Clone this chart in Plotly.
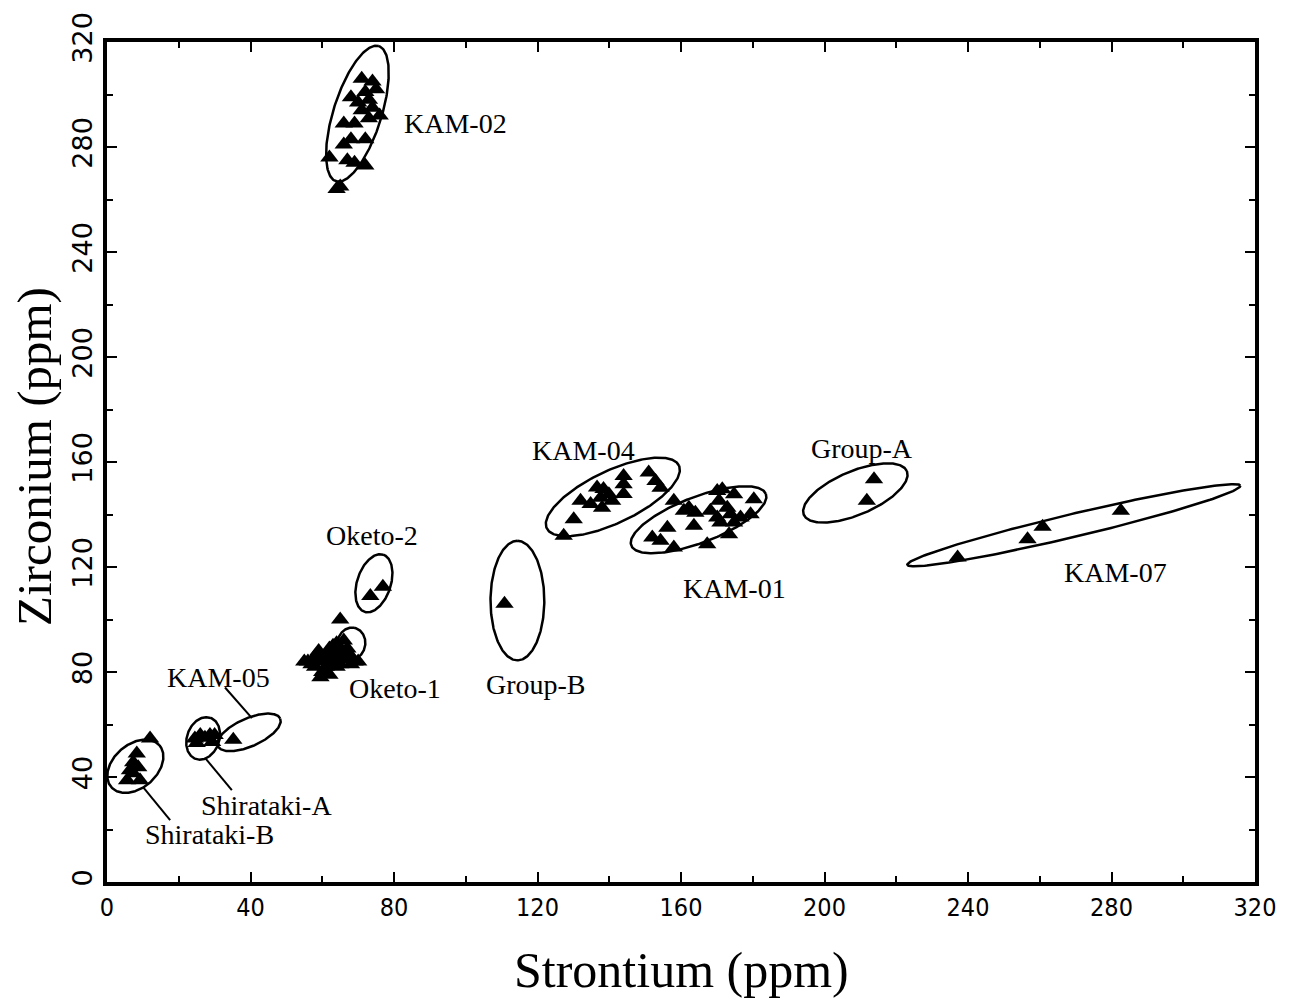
import numpy as np
import plotly.graph_objects as go

# ---------------- data (Sr, Zr in ppm) ----------------
kam02_sr = [64, 65, 62, 66, 67, 69, 72, 68, 72, 66, 69, 73, 76, 71, 74, 68, 72, 75, 71, 74, 73, 70]
kam02_zr = [264, 265, 276, 281, 275, 274, 273, 283, 283, 289, 289, 291, 292, 294, 295, 299, 301, 302, 306, 305, 298, 297]

oketo1_sr = [55, 56, 57, 58, 58, 59, 59, 60, 60, 61, 61, 62, 62, 62, 63, 63, 63, 64, 64, 64, 65, 65, 65, 66, 66, 67, 67, 68, 68, 69, 70, 59.5, 62, 65]
oketo1_zr = [84, 84, 83, 86, 82, 85, 88, 80, 84, 86, 82, 89, 85, 83, 90, 87, 84, 91, 86, 82, 88, 85, 83, 92, 87, 89, 85, 86, 83, 84, 84, 78, 79, 100]

oketo2_sr = [73.4, 76.9]
oketo2_zr = [109, 112.5]

shib_sr = [12, 8.3, 7.3, 8.7, 6.4, 7.3, 5.6, 9.2]
shib_zr = [54.7, 49, 45.6, 43.7, 42.6, 41.4, 38.8, 38.8]

shia_sr = [24.5, 26, 27.3, 28.7, 30, 25, 29.3]
shia_zr = [54.7, 56, 55, 56, 56, 53, 53.3]

kam05_sr = [35.2]
kam05_zr = [54.2]

groupb_sr = [110.8]
groupb_zr = [106]

kam04_sr = [127.3, 130.1, 132, 134.8, 136.6, 137.6, 138, 139.9, 138.4, 140.8, 144, 144, 144, 151, 152.9, 154.3]
kam04_zr = [131.9, 138.2, 145.2, 144, 150.3, 146.4, 142.6, 147.7, 149.7, 145.2, 154.7, 151.5, 147.8, 156, 152.8, 150.2]

kam01_sr = [158, 152, 154.3, 156.2, 158, 160.8, 162.2, 164, 163.6, 167.3, 168.2, 170.1, 171.5, 170.6, 170.1, 171, 172.9, 173.8, 174.8, 174.8, 173.4, 176.6, 179.4, 180.3]
kam01_zr = [145.2, 131.2, 130, 135, 127.4, 141.4, 142.6, 140.7, 135.7, 128.7, 141.4, 149, 149.6, 145.2, 138.9, 137, 142.6, 140.1, 147.7, 137, 132.5, 138.9, 140.1, 145.8]

groupa_sr = [213.8, 211.8]
groupa_zr = [153.4, 145.2]

kam07_sr = [237.1, 256.6, 260.8, 282.6]
kam07_zr = [123.6, 130.6, 135.3, 141.4]

# group ellipses: centre Sr, centre Zr, semi-major, semi-minor (in Sr units), angle (deg, on screen)
ell_names = ["KAM-02", "Oketo-2", "Oketo-1", "Shirataki-B", "Shirataki-A", "KAM-05", "Group-B", "KAM-04", "KAM-01", "Group-A", "KAM-07"]
ell_cx = [69.8, 74.4, 68.1, 7.9, 26.8, 39.6, 114.4, 141.0, 164.9, 208.6, 269.5]
ell_cy = [292.7, 113.8, 90.8, 44.1, 54.7, 57.0, 107.2, 146.7, 138.0, 148.2, 135.9]
ell_a = [19.8, 8.4, 4.5, 8.9, 6.1, 9.5, 16.7, 20.4, 20.1, 15.6, 47.7]
ell_b = [6.7, 4.7, 3.9, 6.1, 4.5, 3.9, 7.5, 7.3, 6.4, 6.1, 3.2]
ell_ang = [72.5, 72, 80, 41, 70, 24, 90, 25.5, 21, 23, 13.4]

# labels
lab_text = ["KAM-02", "KAM-04", "Group-A", "Oketo-2", "Group-B", "KAM-01", "KAM-07", "Oketo-1", "KAM-05", "Shirataki-A", "Shirataki-B"]
lab_x = [97.1, 132.8, 210.4, 73.9, 119.7, 174.9, 281.2, 80.4, 31.0, 44.4, 28.5]
lab_y = [288.9, 164.2, 165.3, 131.9, 75.3, 111.7, 117.8, 73.7, 77.9, 29.3, 18.2]

# leader lines (x0, y0, x1, y1)
lead_x0 = [32.9, 27.5, 10.0]
lead_y0 = [74.1, 47.0, 36.2]
lead_x1 = [40.4, 34.8, 17.6]
lead_y1 = [62.4, 35.0, 23.6]

x_range = [0, 320]
y_range = [0, 320]
x_ticks = list(range(0, 321, 40))
y_ticks = list(range(0, 321, 40))

# ---------------- layout geometry ----------------
W, H = 1295, 999
ML, MR, MT, MB = 107, 40, 40, 117
pw, ph = W - ML - MR, H - MT - MB
kx = pw / (x_range[1] - x_range[0])
ky = ph / (y_range[1] - y_range[0])

fig = go.Figure()

# ellipses
t = np.linspace(0, 2 * np.pi, 241)
for cx, cy, a, b, ang in zip(ell_cx, ell_cy, ell_a, ell_b, ell_ang):
    th = np.deg2rad(ang)
    dx = a * np.cos(t) * np.cos(th) - b * np.sin(t) * np.sin(th)
    dy = (a * np.cos(t) * np.sin(th) + b * np.sin(t) * np.cos(th)) * kx / ky
    fig.add_trace(go.Scatter(x=cx + dx, y=cy + dy, mode="lines",
                             line=dict(color="black", width=2.5),
                             hoverinfo="skip", showlegend=False))

# leader lines
for x0, y0, x1, y1 in zip(lead_x0, lead_y0, lead_x1, lead_y1):
    fig.add_trace(go.Scatter(x=[x0, x1], y=[y0, y1], mode="lines",
                             line=dict(color="black", width=2),
                             hoverinfo="skip", showlegend=False))

# points
groups = [(kam02_sr, kam02_zr), (oketo1_sr, oketo1_zr), (oketo2_sr, oketo2_zr),
          (shib_sr, shib_zr), (shia_sr, shia_zr), (kam05_sr, kam05_zr),
          (groupb_sr, groupb_zr), (kam04_sr, kam04_zr), (kam01_sr, kam01_zr),
          (groupa_sr, groupa_zr), (kam07_sr, kam07_zr)]
for sx, sy in groups:
    fig.add_trace(go.Scatter(x=sx, y=sy, mode="markers",
                             marker=dict(symbol="triangle-up", size=16, color="black",
                                         line=dict(width=0)),
                             showlegend=False))

for txt, x, y in zip(lab_text, lab_x, lab_y):
    fig.add_annotation(x=x, y=y, text=txt, showarrow=False,
                       font=dict(family="Liberation Serif, Times New Roman, serif", size=28, color="black"))

# axis titles
fig.add_annotation(xref="paper", yref="paper", x=0.5, y=0, yshift=-88, text="Strontium (ppm)",
                   showarrow=False, yanchor="middle",
                   font=dict(family="Liberation Serif, Times New Roman, serif", size=50, color="black"))
fig.add_annotation(xref="paper", yref="paper", x=0, y=0.506, xshift=-72, text="Zirconium (ppm)",
                   showarrow=False, textangle=-90, xanchor="center",
                   font=dict(family="Liberation Serif, Times New Roman, serif", size=49, color="black"))

axis_common = dict(showgrid=False, zeroline=False, showline=True, linecolor="black", linewidth=3.5,
                   mirror="allticks", ticks="inside", ticklen=10, tickwidth=2, tickcolor="black")

fig.update_xaxes(range=x_range, tickvals=x_ticks, ticktext=[str(v) for v in x_ticks],
                 tickfont=dict(family="DejaVu Sans Condensed, Liberation Sans Narrow, Arial Narrow, sans-serif", size=25, color="black"),
                 minor=dict(ticks="inside", dtick=20, ticklen=6, tickwidth=2, tickcolor="black"),
                 **axis_common)
fig.update_yaxes(range=y_range, tickvals=y_ticks, ticktext=[str(v) for v in y_ticks], tickangle=-90,
                 tickfont=dict(family="DejaVu Sans, sans-serif", size=27, color="black"),
                 minor=dict(ticks="inside", dtick=20, ticklen=6, tickwidth=2, tickcolor="black"),
                 **axis_common)

fig.update_layout(width=W, height=H, margin=dict(l=ML, r=MR, t=MT, b=MB),
                  plot_bgcolor="white", paper_bgcolor="white")

fig.write_html("out.html", config={"displayModeBar": False},
               post_script="document.body.style.margin='0px';")
